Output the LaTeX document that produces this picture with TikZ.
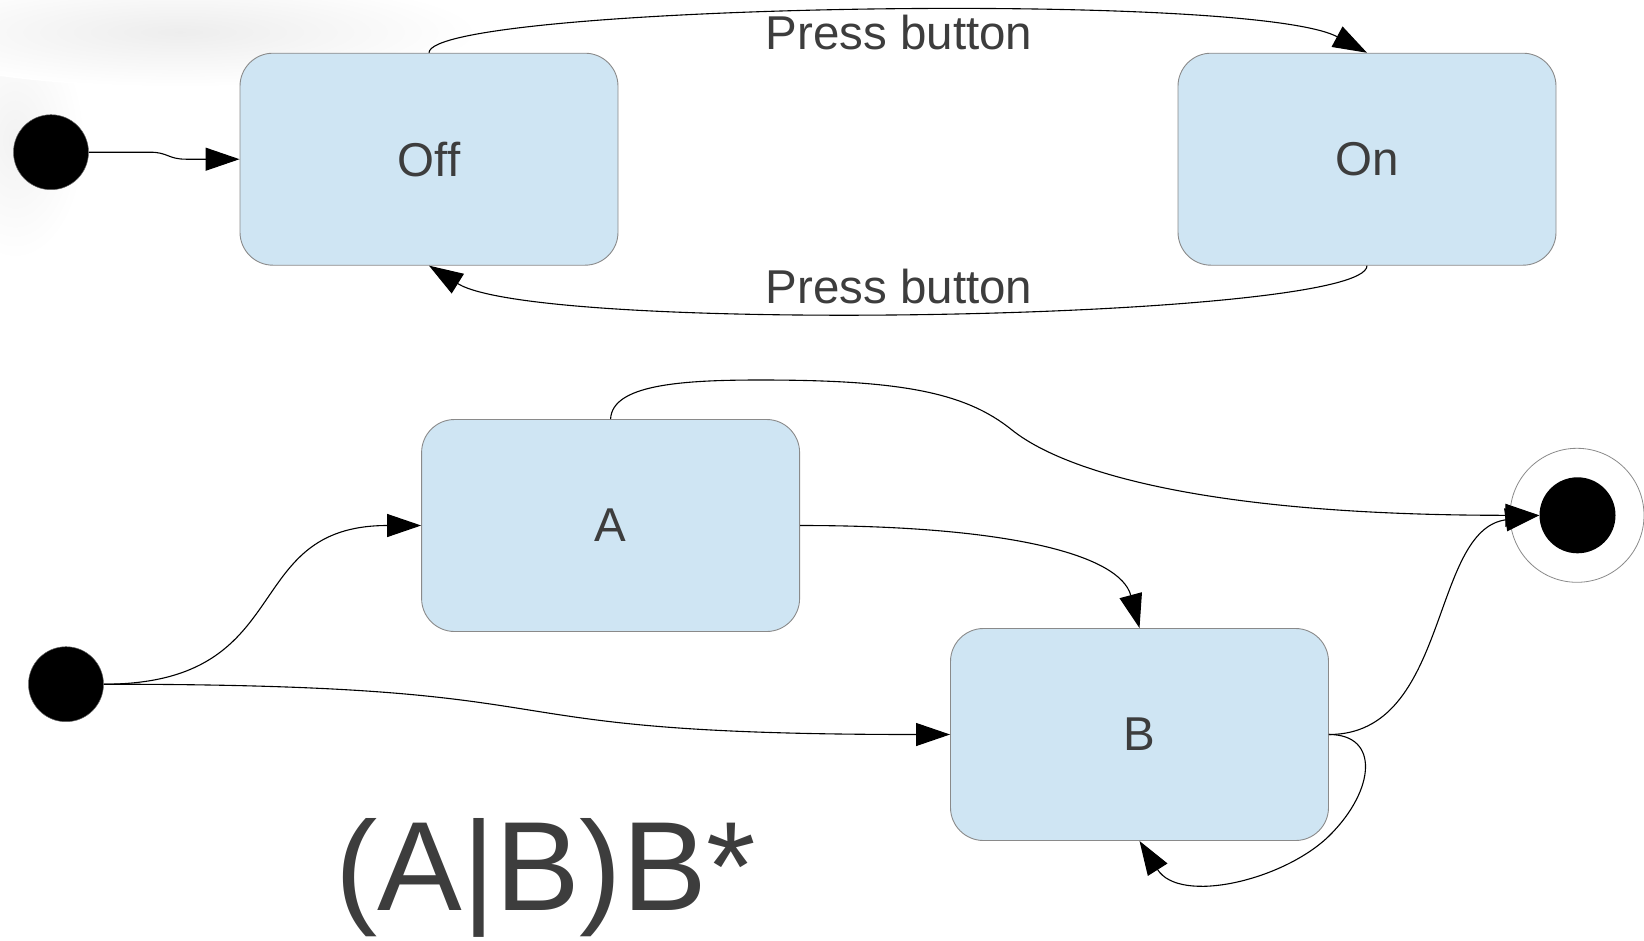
\documentclass[tikz,border=0pt]{standalone}
\usepackage{fontspec}
\setmainfont{Liberation Sans}
\usetikzlibrary{arrows.meta}
\definecolor{boxfill}{HTML}{CFE5F3}
\definecolor{boxline}{HTML}{8A8A8A}
\definecolor{txt}{HTML}{3D3D3D}
\begin{document}
\begin{tikzpicture}[x=1pt,y=-1pt,
  stbox/.style={draw=boxline, fill=boxfill, line width=0.9pt, rounded corners=33pt,
    minimum width=378pt, minimum height=212pt, inner sep=0pt, text=txt,
    font=\fontsize{47.5}{56}\selectfont},
  startdot/.style={circle, fill=black, draw=black!60, line width=0.5pt, minimum size=75pt, inner sep=0pt},
  conn/.style={draw=black, line width=1.1pt, -{Triangle[length=34pt,width=23pt]}},
  lbl/.style={text=txt, font=\fontsize{47.5}{56}\selectfont, inner sep=0pt, anchor=base},
]
\useasboundingbox (0,0) rectangle (1644,940);
% faint haze top-left
\shade[inner color=black!5, outer color=white] (15,140) ellipse [x radius=70, y radius=120];
\shade[inner color=black!7, outer color=white] (180,32) ellipse [x radius=300, y radius=55];

% nodes
\node[startdot] (i1) at (51,152.2) {};
\node[stbox] (Off) at (429,159.2) {Off};
\node[stbox] (On) at (1367,159.2) {On};
\node[startdot] (i2) at (66,684.2) {};
\node[stbox] (A) at (610.6,525.5) {A};
\node[stbox] (B) at (1139.5,734.5) {B};
\node[circle, draw=boxline, line width=0.8pt, minimum size=134pt, inner sep=0pt] (finouter) at (1577,515.3) {};
\node[circle, fill=black, minimum size=76pt, inner sep=0pt] (fin) at (1577.5,515.3) {};

% labels
\node[lbl] (lab1) at (899,49.5) {Press button};
\node[lbl] (lab2) at (899,303.3) {Press button};
\node[anchor=base west, inner sep=0pt, text=txt, font=\fontsize{127}{150}\selectfont] (re) at (335,910) {(A|B)B*};

% connectors
\draw[conn] (i1.east) -- (150,152.2) .. controls (168,152.2) and (168,159.2) .. (186,159.2) -- (Off.west);
\draw[conn] (Off.north) .. controls (430,5) and (1250,-10) .. (On.north);
\draw[conn] (On.south) .. controls (1367,320) and (540,335) .. (Off.south);
\draw[conn] (i2.east) .. controls (300,684.2) and (237,525.5) .. (A.west);
\draw[conn] (i2.east) .. controls (620,684.2) and (440,734.5) .. (B.west);
\draw[conn] (A.east) .. controls (1010,525.5) and (1120,555) .. (B.north);
\draw[conn] (A.north) .. controls (612,385) and (680,380) .. (760,380)
  .. controls (900,380) and (965,392) .. (1012,430)
  .. controls (1062,470) and (1200,515.3) .. (fin.west);
\draw[conn] (B.east) .. controls (1450,734.5) and (1430,530) .. (fin.west);
\draw[conn] (B.east) .. controls (1380,734.5) and (1375,790) .. (1330,835)
  .. controls (1285,880) and (1180,905) .. (B.south);
\end{tikzpicture}
\end{document}
